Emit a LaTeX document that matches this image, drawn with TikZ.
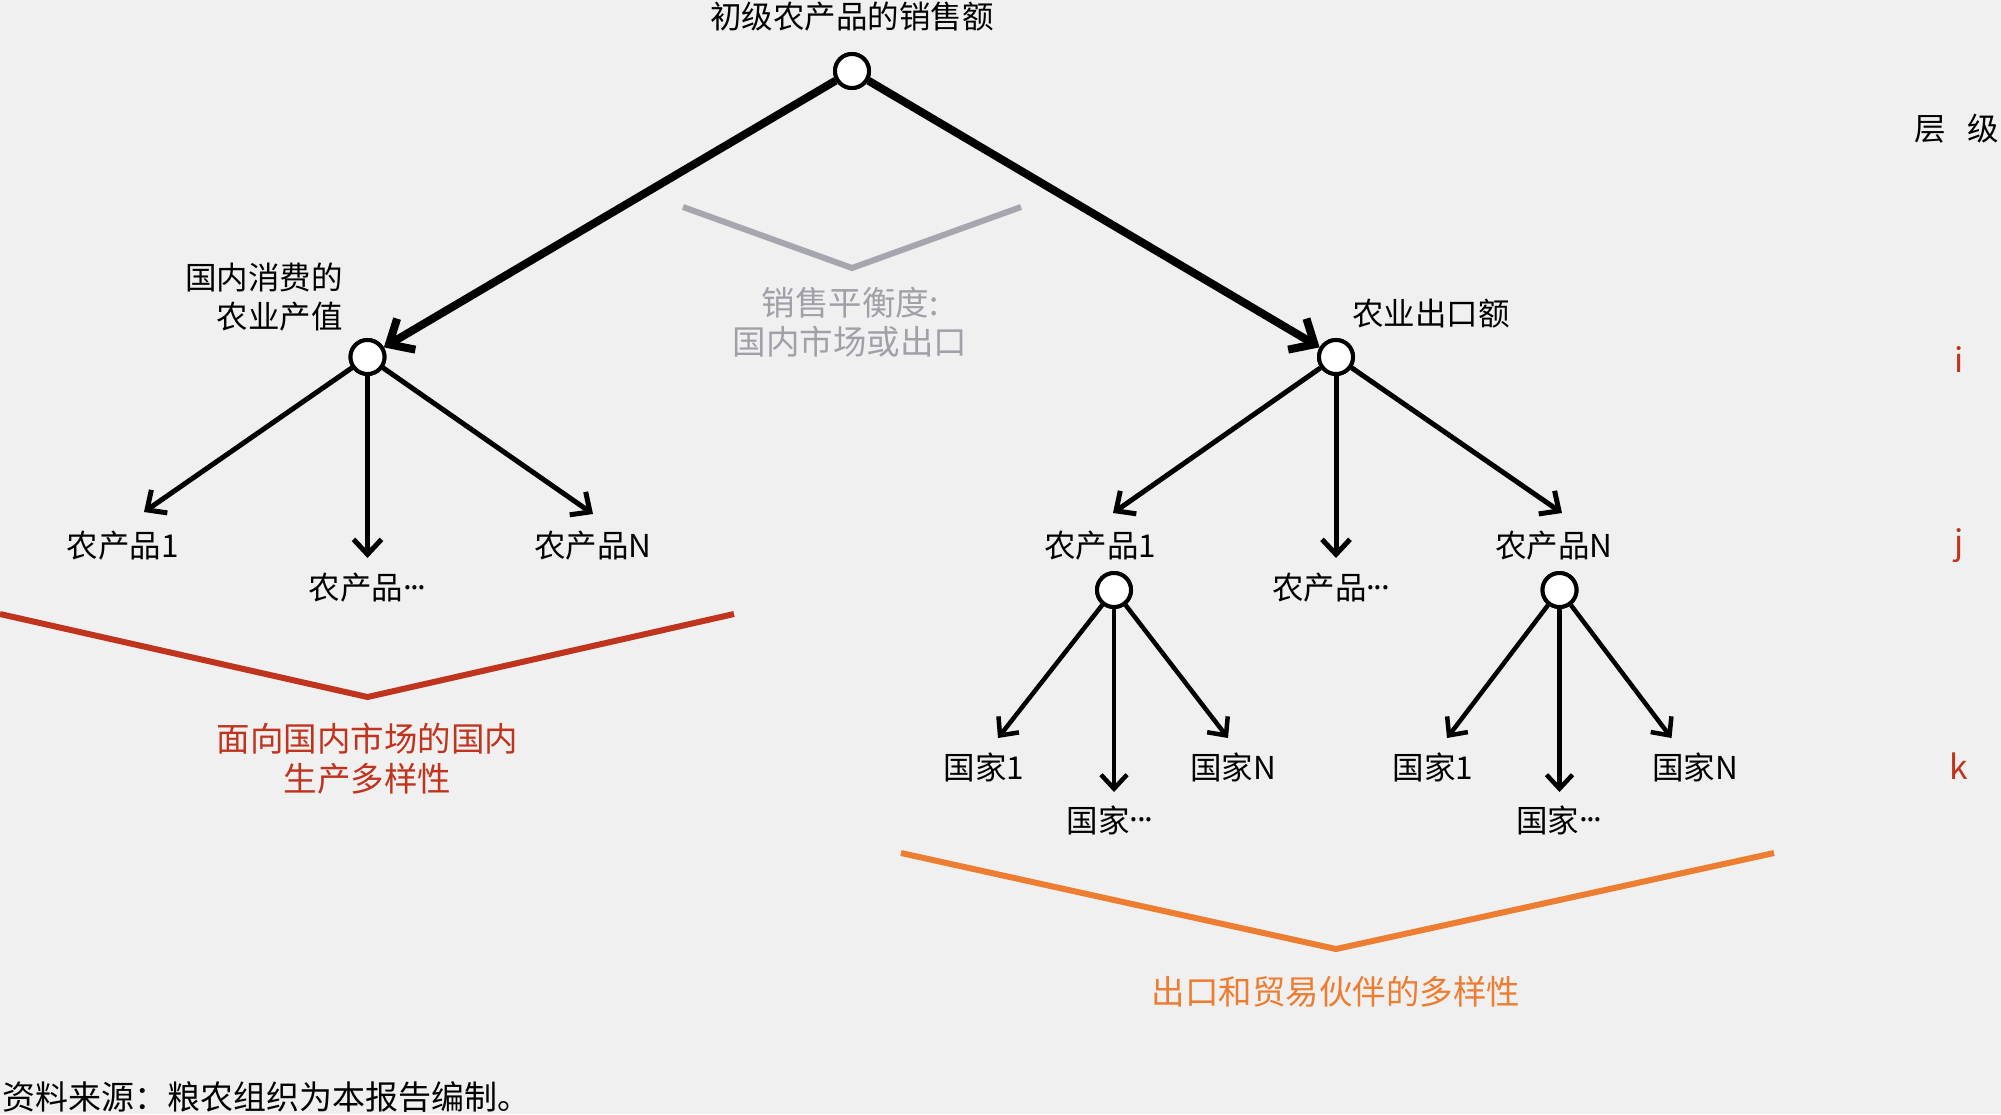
\documentclass[tikz,border=0pt]{standalone}
\usepackage{fontspec}
\setmainfont{Noto Sans CJK SC}
\usetikzlibrary{arrows.meta}
\definecolor{bg}{HTML}{F0F0F0}
\definecolor{vgray}{HTML}{A6A6AE}
\definecolor{tgray}{HTML}{A0A0A8}
\definecolor{vred}{HTML}{C0341D}
\definecolor{vorange}{HTML}{ED7D31}
\newcommand{\mydots}{\raisebox{0.33em}{.\kern-1.5pt.\kern-1.5pt.}}
\begin{document}
\begin{tikzpicture}[x=1pt,y=-1pt,
  txt/.style={inner sep=0pt,font=\fontsize{31.5}{39.5}\selectfont},
  ctxt/.style={inner sep=0pt,font=\fontsize{33.5}{39.5}\selectfont},
  dot/.style={circle,draw=black,fill=white,line width=4pt,minimum size=34pt,inner sep=0pt},
  arrA/.style={line width=8pt,-{Straight Barb[length=20pt,width=36pt]}},
  arrB/.style={line width=5pt,-{Straight Barb[length=15pt,width=28pt]}},
  arrC/.style={line width=4.5pt,-{Straight Barb[length=14pt,width=26pt]}},
  vee/.style={line width=6pt}]
\fill[bg] (0,0) rectangle (2001,1114);
\useasboundingbox (0,0) rectangle (2001,1114);

% nodes
\node[dot] (root) at (852,71) {};
\node[dot] (li) at (367.5,357) {};
\node[dot] (ri) at (1336,357) {};
\node[dot] (j1) at (1114,590) {};
\node[dot] (jN) at (1559.5,590) {};

% labels
\node[txt] (tRoot) at (852,17) {初级农产品的销售额};
\node[txt,align=right,anchor=east] (tLi) at (343,297) {国内消费的\\农业产值};
\node[txt,anchor=west] (tRi) at (1352,314) {农业出口额};
\node[ctxt,align=center,text=tgray] (tBal) at (850,322) {销售平衡度:\\国内市场或出口};

\node[txt] (lA1) at (122.5,546) {农产品1};
\node[txt] (lAm) at (367.5,588) {农产品\mydots};
\node[txt] (lAN) at (593,546) {农产品N};
\node[txt] (lB1) at (1100,546) {农产品1};
\node[txt] (lBm) at (1331,588) {农产品\mydots};
\node[txt] (lBN) at (1554,546) {农产品N};

\node[txt] (k11) at (984,767) {国家1};
\node[txt] (k1m) at (1110,820) {国家\mydots};
\node[txt] (k1N) at (1233,767) {国家N};
\node[txt] (kN1) at (1433,767) {国家1};
\node[txt] (kNm) at (1559.5,820) {国家\mydots};
\node[txt] (kNN) at (1695,767) {国家N};

\node[ctxt,align=center,text=vred] (tRed) at (367.5,758.5) {面向国内市场的国内\\生产多样性};
\node[ctxt,text=vorange] (tOr) at (1336,992) {出口和贸易伙伴的多样性};

\node[txt,anchor=west] (tLev) at (1914,129) {层\hspace{22pt}级};
\node[ctxt,text=vred] (li1) at (1959,360) {i};
\node[ctxt,text=vred] (lj1) at (1959,546) {j};
\node[ctxt,text=vred] (lk1) at (1959,766) {k};

\node[inner sep=0pt,font=\fontsize{33}{39}\selectfont,anchor=west] (src) at (2,1097) {资料来源：粮农组织为本报告编制。};

% tip coordinates
\coordinate (tA1) at (144,512);
\coordinate (tAm) at (367.5,558);
\coordinate (tAN) at (593,514);
\coordinate (tB1) at (1113,513);
\coordinate (tBm) at (1336,558);
\coordinate (tBN) at (1562,513);
\coordinate (t11) at (998,738);
\coordinate (t1m) at (1114,792);
\coordinate (t1N) at (1228,738);
\coordinate (tN1) at (1447,738);
\coordinate (tNm) at (1559.5,792);
\coordinate (tNN) at (1671.5,738);

% connectors
\draw[arrA] (root) -- (li);
\draw[arrA] (root) -- (ri);
\draw[arrB] (li) -- (tA1);
\draw[arrB] (li) -- (tAm);
\draw[arrB] (li) -- (tAN);
\draw[arrB] (ri) -- (tB1);
\draw[arrB] (ri) -- (tBm);
\draw[arrB] (ri) -- (tBN);
\draw[arrC] (j1) -- (t11);
\draw[arrC] (j1) -- (t1m);
\draw[arrC] (j1) -- (t1N);
\draw[arrC] (jN) -- (tN1);
\draw[arrC] (jN) -- (tNm);
\draw[arrC] (jN) -- (tNN);

% redraw circles on top
\node[dot] at (root) {};
\node[dot] at (li) {};
\node[dot] at (ri) {};
\node[dot] at (j1) {};
\node[dot] at (jN) {};

% brackets
\coordinate (g1) at (683,207);
\coordinate (g2) at (852,268);
\coordinate (g3) at (1021,207);
\draw[vee,vgray] (g1) -- (g2) -- (g3);
\coordinate (r1) at (0,614);
\coordinate (r2) at (367.5,697);
\coordinate (r3) at (734,614);
\draw[vee,vred] (r1) -- (r2) -- (r3);
\coordinate (o1) at (901,853);
\coordinate (o2) at (1336,949);
\coordinate (o3) at (1774,853);
\draw[vee,vorange] (o1) -- (o2) -- (o3);
\end{tikzpicture}
\end{document}
